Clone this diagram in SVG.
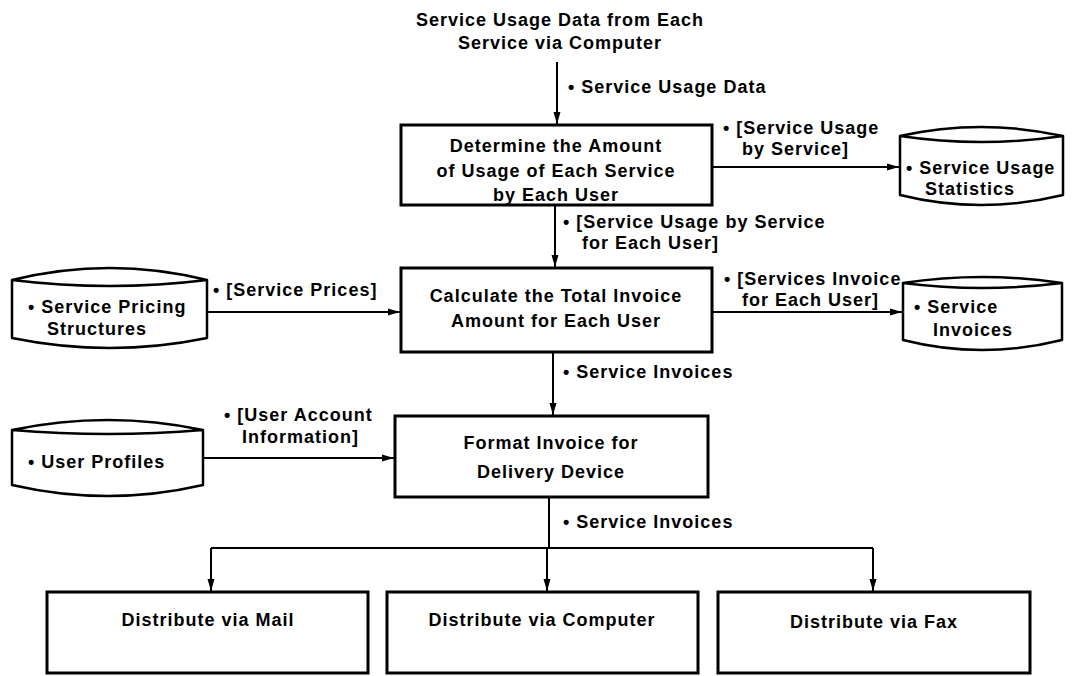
<svg xmlns="http://www.w3.org/2000/svg" width="1073" height="676" viewBox="0 0 1073 676">
<style>
text{font-family:"Liberation Sans",Arial,Helvetica,sans-serif;font-weight:bold;font-size:18px;fill:#000;letter-spacing:1px}
.c{text-anchor:middle}
.box{fill:none;stroke:#000;stroke-width:3}
.cyl{fill:none;stroke:#000;stroke-width:2.5;stroke-linejoin:round}
.ln{fill:none;stroke:#000;stroke-width:2}
</style>
<defs>
<marker id="ah" viewBox="0 0 12 8" refX="12" refY="4" markerWidth="12" markerHeight="8" markerUnits="userSpaceOnUse" orient="auto">
<path d="M0,0.5 L12,4 L0,7.5 Z" fill="#000"/>
</marker>
</defs>
<rect width="1073" height="676" fill="#fff"/>

<g id="source">
<text class="c" x="560" y="26">Service Usage Data from Each</text>
<text class="c" x="560" y="49">Service via Computer</text>
</g>

<g id="determine">
<rect class="box" x="401" y="125" width="311" height="80"/>
<text class="c" x="556" y="152">Determine the Amount</text>
<text class="c" x="556" y="177">of Usage of Each Service</text>
<text class="c" x="556" y="201">by Each User</text>
</g>

<g id="calculate">
<rect class="box" x="401" y="268" width="311" height="84"/>
<text class="c" x="556" y="302">Calculate the Total Invoice</text>
<text class="c" x="556" y="327">Amount for Each User</text>
</g>

<g id="format">
<rect class="box" x="395" y="416" width="313" height="81"/>
<text class="c" x="551" y="449">Format Invoice for</text>
<text class="c" x="551" y="478">Delivery Device</text>
</g>

<g id="mail">
<rect class="box" x="47" y="592" width="321" height="81"/>
<text class="c" x="208" y="626">Distribute via Mail</text>
</g>
<g id="computer">
<rect class="box" x="387" y="592" width="311" height="81"/>
<text class="c" x="542" y="626">Distribute via Computer</text>
</g>
<g id="fax">
<rect class="box" x="718" y="592" width="312" height="81"/>
<text class="c" x="874" y="628">Distribute via Fax</text>
</g>

<g id="usage-statistics">
<path class="cyl" d="M900,136 Q981,118 1063,136 Q981,148 900,136 Z M900,136 L900,195 Q981,215 1063,195 L1063,136"/>
<text x="906" y="174">• Service Usage</text>
<text x="925" y="195">Statistics</text>
</g>

<g id="pricing">
<path class="cyl" d="M12,280 Q110,256 207,280 Q110,292 12,280 Z M12,280 L12,338 Q110,358 207,338 L207,280"/>
<text x="28" y="313">• Service Pricing</text>
<text x="47" y="335">Structures</text>
</g>

<g id="invoices-store">
<path class="cyl" d="M903,283 Q982,271 1062,283 Q982,293 903,283 Z M903,283 L903,340 Q982,360 1062,340 L1062,283"/>
<text x="914" y="313">• Service</text>
<text x="933" y="336">Invoices</text>
</g>

<g id="profiles">
<path class="cyl" d="M12,430 Q108,410 203,430 Q108,438 12,430 Z M12,430 L12,485 Q108,507 203,485 L203,430"/>
<text x="28" y="468">• User Profiles</text>
</g>

<g id="connectors">
<path class="ln" d="M557,62 L557,124" marker-end="url(#ah)"/>
<path class="ln" d="M712,167 L899,167" marker-end="url(#ah)"/>
<path class="ln" d="M555,206 L555,267" marker-end="url(#ah)"/>
<path class="ln" d="M207,312 L400,312" marker-end="url(#ah)"/>
<path class="ln" d="M712,312 L902,312" marker-end="url(#ah)"/>
<path class="ln" d="M553,353 L553,415" marker-end="url(#ah)"/>
<path class="ln" d="M203,458 L394,458" marker-end="url(#ah)"/>
<path class="ln" d="M549,498 L549,548 M211,548 L873,548"/>
<path class="ln" d="M211,548 L211,591" marker-end="url(#ah)"/>
<path class="ln" d="M547,548 L547,591" marker-end="url(#ah)"/>
<path class="ln" d="M873,548 L873,591" marker-end="url(#ah)"/>
<text x="568" y="93">• Service Usage Data</text>
<text x="723" y="134">• [Service Usage</text>
<text x="742" y="155">by Service]</text>
<text x="563" y="228">• [Service Usage by Service</text>
<text x="582" y="249">for Each User]</text>
<text x="213" y="296">• [Service Prices]</text>
<text x="724" y="285">• [Services Invoice</text>
<text x="742" y="306">for Each User]</text>
<text x="563" y="378">• Service Invoices</text>
<text x="224" y="421">• [User Account</text>
<text x="242" y="443">Information]</text>
<text x="563" y="528">• Service Invoices</text>
</g>
</svg>
